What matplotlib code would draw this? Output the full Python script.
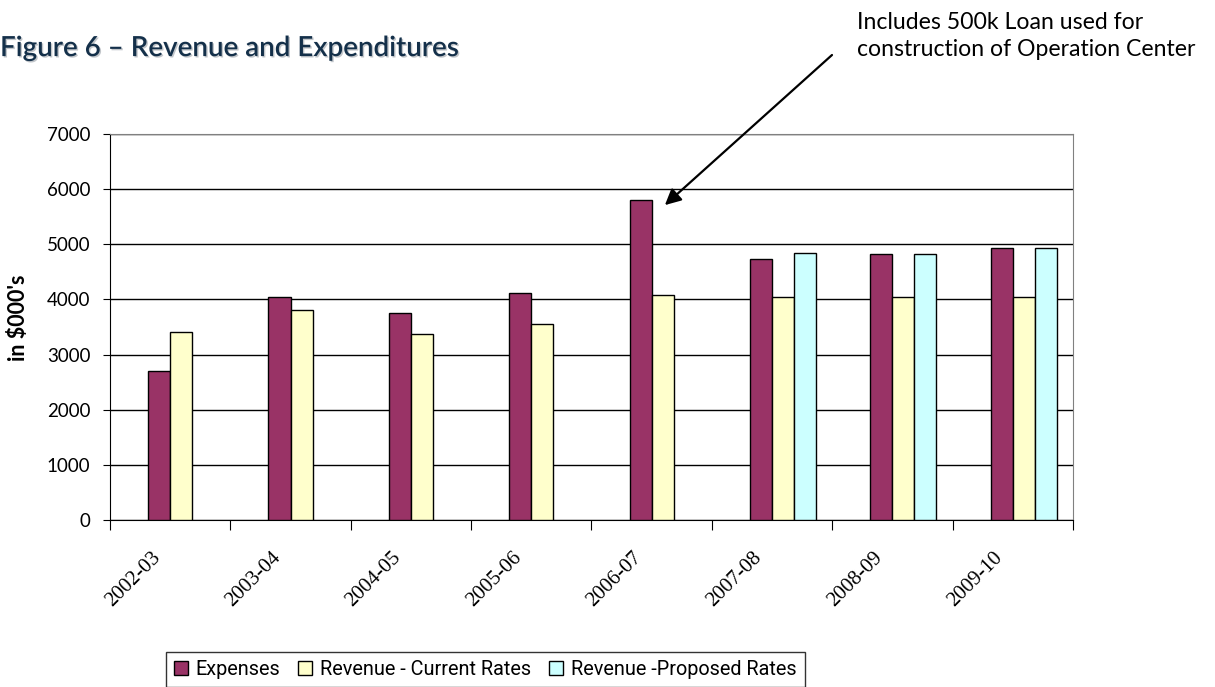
import numpy as np
import matplotlib.pyplot as plt
import matplotlib.patheffects as pe
from matplotlib.transforms import ScaledTranslation

# values in $000's
years = ['2002-03', '2003-04', '2004-05', '2005-06', '2006-07', '2007-08', '2008-09', '2009-10']
expenses = [2700, 4050, 3750, 4120, 5800, 4730, 4830, 4930]
revenue_current = [3400, 3800, 3370, 3550, 4080, 4050, 4050, 4050]
revenue_proposed = [0, 0, 0, 0, 0, 4850, 4825, 4930]

fig = plt.figure(figsize=(12.15, 6.87), dpi=100)
ax = fig.add_axes([0.0905, 0.2431, 0.7926, 0.5619])

x = np.arange(len(years))
w = 0.183
ax.bar(x - w / 2, expenses, w, color='#993366', edgecolor='black', linewidth=1, label='Expenses', zorder=3)
ax.bar(x + w / 2, revenue_current, w, color='#FFFFCC', edgecolor='black', linewidth=1,
       label='Revenue - Current Rates', zorder=3)
ax.bar(x[5:] + 1.5 * w, revenue_proposed[5:], w, color='#CCFFFF', edgecolor='black', linewidth=1,
       label='Revenue -Proposed Rates', zorder=3)

ax.set_xlim(-0.5, len(years) - 0.5)
ax.set_ylim(0, 7000)
ax.set_yticks(range(0, 7001, 1000))
ax.yaxis.grid(True, color='black', linewidth=1, zorder=0)

# category ticks at the boundaries, labels at the centres
ax.set_xticks(np.arange(-0.5, len(years)))
ax.set_xticklabels([])
ax.set_xticks(x, minor=True)
ax.set_xticklabels(years, minor=True, rotation=45, ha='right', va='top',
                   fontsize=15, family='Liberation Serif')
ax.tick_params(axis='x', which='minor', length=0, pad=20)
ax.tick_params(axis='x', which='major', length=7, direction='out', color='black')
shift = ScaledTranslation(-6 / 100, 0, fig.dpi_scale_trans)
for lab in ax.get_xticklabels(minor=True):
    lab.set_transform(lab.get_transform() + shift)

ax.tick_params(axis='y', length=5, direction='out', labelsize=13.5, pad=9)
for lab in ax.get_yticklabels():
    lab.set_family('Lato')

ax.spines['top'].set_color('#808080')
ax.spines['right'].set_color('#808080')
ax.spines['left'].set_color('black')
ax.spines['bottom'].set_color('black')

ax.set_ylabel("in $000's", fontsize=15.5, fontweight='bold', family='Lato')
ax.yaxis.set_label_coords(-0.084, 0.525)

fig.text(0.0, 0.93, 'Figure 6 \u2013 Revenue and Expenditures', fontsize=20, color='#14304a',
         family='Lato', fontweight='semibold', ha='left', va='center',
         path_effects=[pe.SimplePatchShadow(offset=(1, -1), shadow_rgbFace='#9aa0a8', alpha=0.6), pe.Normal()])

fig.text(857 / 1215, 1 - 36 / 687, 'Includes 500k Loan used for\nconstruction of Operation Center',
         fontsize=16.6, family='Lato', ha='left', va='center', linespacing=1.3)
ax.annotate('', xy=(4.11, 5710), xycoords='data',
            xytext=(832 / 1215, 1 - 55 / 687), textcoords='figure fraction',
            arrowprops=dict(arrowstyle='-|>', color='black', lw=1.6, mutation_scale=24,
                            shrinkA=0, shrinkB=0))

leg = ax.legend(loc='upper left', bbox_to_anchor=((166 - 110) / 963, -(652 - 520) / 386),
                ncol=3, frameon=True, fancybox=False, edgecolor='black',
                handlelength=0.7, handleheight=0.7, handletextpad=0.4, columnspacing=0.9,
                borderpad=0.4, borderaxespad=0, prop={'family': 'Roboto', 'size': 14.3})
leg.get_frame().set_linewidth(1)

fig.savefig('out.png', dpi=100)
